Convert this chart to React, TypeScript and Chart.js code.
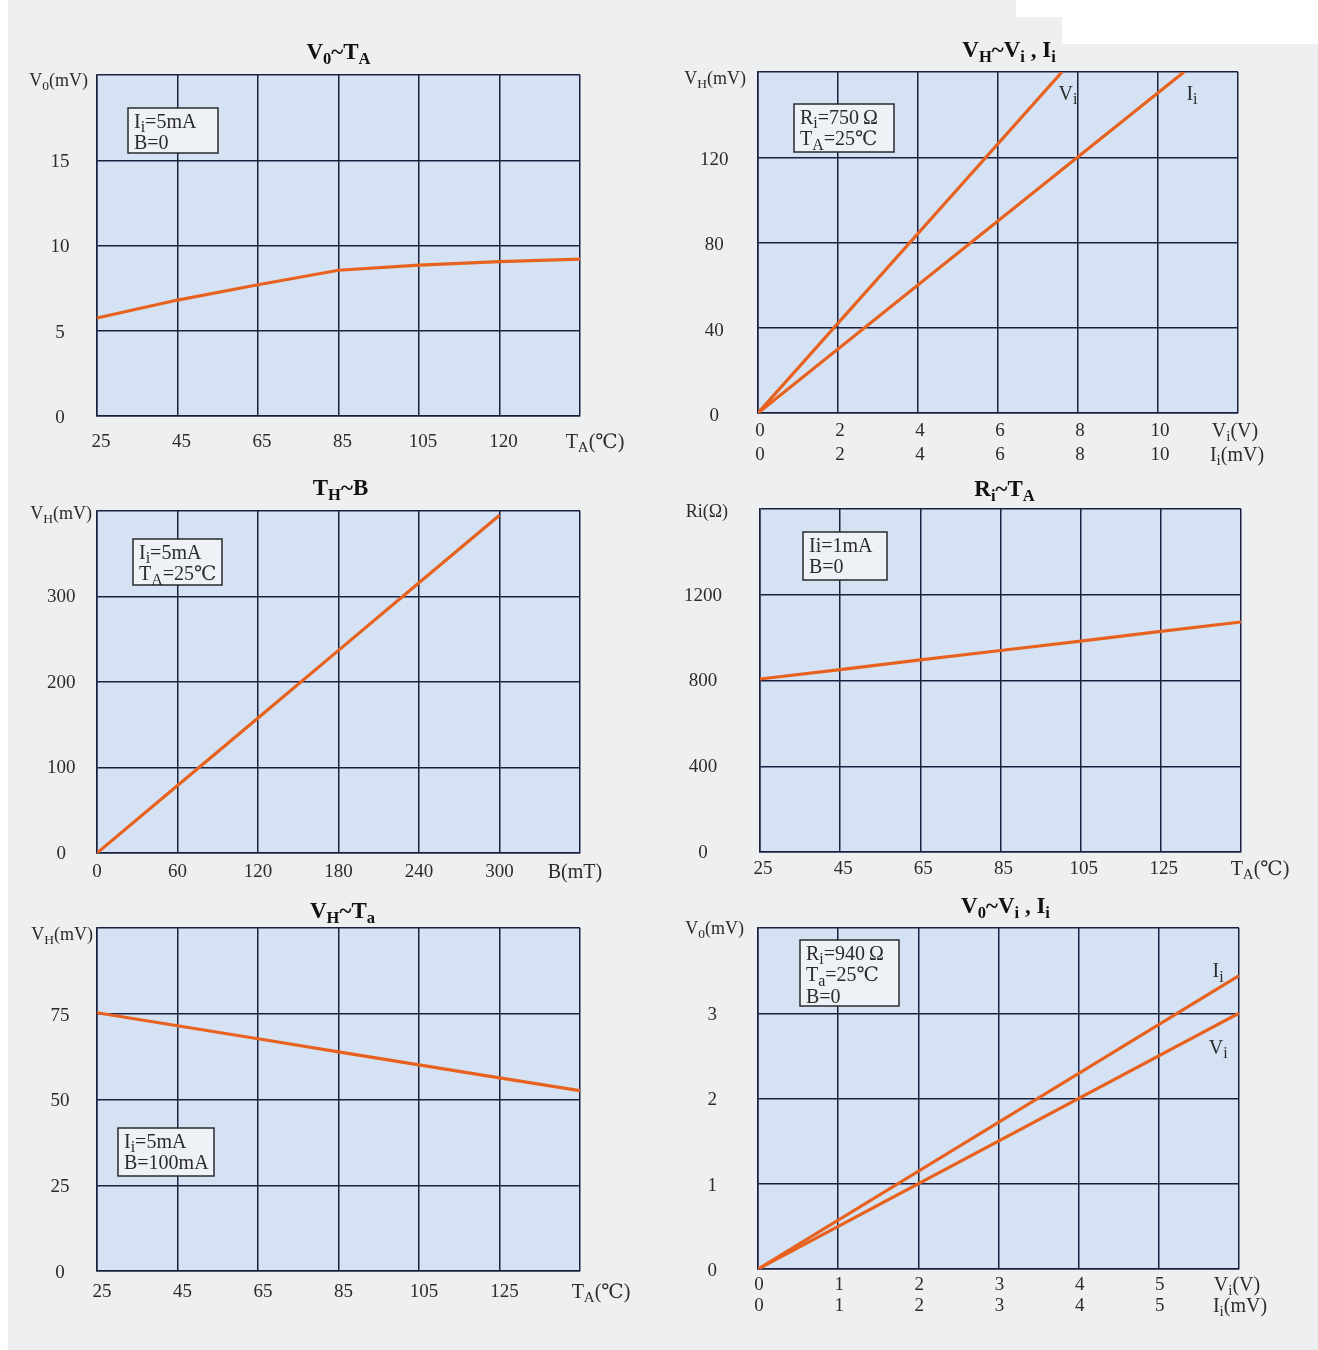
import React, { useEffect, useRef } from 'react';
import { Chart, registerables } from 'chart.js';

Chart.register(...registerables);

// ---------------- data ----------------
// Chart 1: V0 ~ TA
const C1_CATEGORIES = ['25', '45', '65', '85', '105', '120', ''];
const C1_VALUES = [5.75, 6.8, 7.7, 8.55, 8.85, 9.05, 9.2];
const C1_Y_TICKS = ['0', '5', '10', '15', ''];

// Chart 2: VH ~ Vi , Ii
const C2_XV_TICKS = ['0', '2', '4', '6', '8', '10', ''];
const C2_XI_TICKS = ['0', '2', '4', '6', '8', '10', ''];
const C2_Y_TICKS = ['0', '40', '80', '120', ''];
const C2_VI_X = [0, 7.6];
const C2_VI_Y = [0, 160];
const C2_II_X = [0, 10.65];
const C2_II_Y = [0, 160];

// Chart 3: TH ~ B
const C3_X_TICKS = ['0', '60', '120', '180', '240', '300', ''];
const C3_Y_TICKS = ['0', '100', '200', '300', ''];
const C3_B = [0, 60, 120, 180, 240, 300];
const C3_VH = [0, 79, 158, 237, 316, 395];

// Chart 4: Ri ~ TA
const C4_X_TICKS = ['25', '45', '65', '85', '105', '125', ''];
const C4_Y_TICKS = ['0', '400', '800', '1200', ''];
const C4_TA = [25, 45, 65, 85, 105, 125, 145];
const C4_RI = [807, 851, 896, 940, 984, 1029, 1073];

// Chart 5: VH ~ Ta
const C5_X_TICKS = ['25', '45', '65', '85', '105', '125', ''];
const C5_Y_TICKS = ['0', '25', '50', '75', ''];
const C5_TA = [25, 45, 65, 85, 105, 125, 145];
const C5_VH = [75.3, 71.5, 67.7, 63.9, 60.1, 56.3, 52.6];

// Chart 6: V0 ~ Vi , Ii
const C6_XV_TICKS = ['0', '1', '2', '3', '4', '5', ''];
const C6_XI_TICKS = ['0', '1', '2', '3', '4', '5', ''];
const C6_Y_TICKS = ['0', '1', '2', '3', ''];
const C6_II_X = [0, 6];
const C6_II_Y = [0, 3.44];
const C6_VI_X = [0, 6];
const C6_VI_Y = [0, 3.0];

// ---------------- styles ----------------
const FAMILY = "'Liberation Serif', 'DejaVu Serif', serif";
const GRID = '#1a2140';
const PLOT_BG = '#d4e2f3';
const LINE = '#e8621f';
const TEXT = '#2b2b2b';
const BOX_BG = '#eef1f5';
const PAGE_BG = '#eeeff1';
const TICK_SIZE = 19;

const Y_AREA = 90;
const X_AREA = 70;
const TOP_PAD = 60;
const RIGHT_PAD = 80;

type Seg = { t: string; sub: boolean };
function parseRich(s: string): Seg[] {
  const out: Seg[] = [];
  let buf = '';
  let i = 0;
  while (i < s.length) {
    const c = s[i];
    if (c === '_') {
      if (buf) { out.push({ t: buf, sub: false }); buf = ''; }
      if (s[i + 1] === '{') {
        const j = s.indexOf('}', i + 2);
        out.push({ t: s.slice(i + 2, j), sub: true });
        i = j + 1;
      } else {
        out.push({ t: s[i + 1], sub: true });
        i += 2;
      }
    } else {
      buf += c;
      i++;
    }
  }
  if (buf) out.push({ t: buf, sub: false });
  return out;
}

function drawRich(
  ctx: CanvasRenderingContext2D, s: string, x: number, y: number, size: number,
  bold: boolean, align: 'left' | 'center' | 'right', subScale = 0.75,
) {
  const segs = parseRich(s);
  const fontOf = (sz: number) => `${bold ? 'bold ' : ''}${sz}px ${FAMILY}`;
  let w = 0;
  const widths = segs.map((sg) => {
    ctx.font = fontOf(sg.sub ? size * subScale : size);
    const mw = ctx.measureText(sg.t).width;
    w += mw;
    return mw;
  });
  let cx = align === 'center' ? x - w / 2 : align === 'right' ? x - w : x;
  const base = y + size * 0.33;
  ctx.textAlign = 'left';
  ctx.textBaseline = 'alphabetic';
  segs.forEach((sg, i) => {
    ctx.font = fontOf(sg.sub ? size * subScale : size);
    ctx.fillText(sg.t, cx, sg.sub ? base + size * 0.22 : base);
    cx += widths[i];
  });
}

type Note = { text: string; x: number; y: number };
type Sheet = {
  title: string; titleDx: number; titleDy: number;
  yTitle: string; yTitleGap: number; yTitleDy: number;
  units: string[]; unitDx: number[]; rows: number[];
  box: { dx: number; dy: number; w: number; h: number; lines: string[] };
  notes: Note[];
};

function makeSheetPlugin(sheet: Sheet) {
  return {
    id: 'sheet',
    beforeDraw(chart: any) {
      const { ctx, chartArea: a } = chart;
      ctx.save();
      ctx.fillStyle = PLOT_BG;
      ctx.fillRect(a.left, a.top, a.right - a.left, a.bottom - a.top);
      ctx.restore();
    },
    afterDraw(chart: any) {
      const { ctx, chartArea: a } = chart;
      const xs = chart.scales.x;
      const ys = chart.scales.y;
      ctx.save();
      ctx.fillStyle = '#111';
      drawRich(ctx, sheet.title, (a.left + a.right) / 2 + sheet.titleDx, a.top - sheet.titleDy, 23, true, 'center', 0.72);
      ctx.fillStyle = TEXT;
      drawRich(ctx, sheet.yTitle, a.left - sheet.yTitleGap, a.top + sheet.yTitleDy, 18, false, 'right');
      sheet.units.forEach((u, i) => {
        drawRich(ctx, u, a.right + sheet.unitDx[i], a.bottom + sheet.rows[i], 20, false, 'center');
      });
      const b = sheet.box;
      const bx = a.left + b.dx;
      const by = a.top + b.dy;
      ctx.fillStyle = BOX_BG;
      ctx.fillRect(bx, by, b.w, b.h);
      ctx.strokeStyle = '#2a2a2a';
      ctx.lineWidth = 1.5;
      ctx.strokeRect(bx, by, b.w, b.h);
      ctx.fillStyle = TEXT;
      b.lines.forEach((ln, i) => {
        drawRich(ctx, ln, bx + 6, by + 13 + i * 21.5, 20, false, 'left', 0.8);
      });
      sheet.notes.forEach((n) => {
        drawRich(ctx, n.text, xs.getPixelForValue(n.x), ys.getPixelForValue(n.y), 20, false, 'center', 0.8);
      });
      ctx.restore();
    },
  };
}

type Series = { x?: number[]; y: number[] };
type Spec = {
  plot: [number, number, number, number];
  xType: 'category' | 'linear';
  labels?: string[];
  xMin?: number; xMax?: number; xStep?: number;
  xTicks: string[][];
  xPad: number; xRowGap: number; xShift: number;
  yMax: number; yStep: number; yTicks: string[]; yPad: number; yShift: number;
  series: Series[];
  sheet: Sheet;
};

function buildConfig(spec: Spec): any {
  const font = { family: FAMILY, size: TICK_SIZE, lineHeight: spec.xRowGap / TICK_SIZE };
  const xTickCb = (_v: any, i: number) =>
    spec.xTicks.length > 1 ? spec.xTicks.map((row) => row[i] ?? '') : (spec.xTicks[0][i] ?? '');
  const xScale: any = {
    type: spec.xType,
    offset: false,
    grid: { color: GRID, lineWidth: 1.5, drawTicks: false },
    border: { color: GRID, width: 1.5 },
    ticks: {
      autoSkip: false, maxRotation: 0, minRotation: 0,
      padding: spec.xPad + 2 - spec.xRowGap / 2, labelOffset: spec.xShift,
      color: TEXT, font, callback: xTickCb,
    },
    afterFit: (s: any) => { s.height = X_AREA; },
  };
  if (spec.xType === 'linear') {
    xScale.min = spec.xMin;
    xScale.max = spec.xMax;
    xScale.ticks.stepSize = spec.xStep;
  }
  const datasets = spec.series.map((s) => ({
    data: s.x ? s.x.map((xv, i) => ({ x: xv, y: s.y[i] })) : s.y,
    borderColor: LINE,
    borderWidth: 3.2,
    pointRadius: 0,
    fill: false,
    tension: 0,
  }));
  return {
    type: 'line',
    data: { labels: spec.labels, datasets },
    options: {
      animation: false,
      responsive: false,
      maintainAspectRatio: false,
      layout: { padding: { left: 0, top: TOP_PAD, right: RIGHT_PAD, bottom: 0 } },
      plugins: { legend: { display: false }, tooltip: { enabled: false }, title: { display: false } },
      scales: {
        x: xScale,
        y: {
          type: 'linear',
          min: 0,
          max: spec.yMax,
          grid: { color: GRID, lineWidth: 1.5, drawTicks: false },
          border: { color: GRID, width: 1.5 },
          ticks: {
            stepSize: spec.yStep, crossAlign: 'center', padding: spec.yPad, color: TEXT,
            labelOffset: spec.yShift,
            font: { family: FAMILY, size: TICK_SIZE },
            callback: (_v: any, i: number) => spec.yTicks[i] ?? '',
          },
          afterFit: (s: any) => { s.width = Y_AREA; },
        },
      },
    },
    plugins: [makeSheetPlugin(spec.sheet)],
  };
}

const SPECS: Spec[] = [
  {
    plot: [97, 75, 580, 416], xType: 'category', labels: C1_CATEGORIES,
    xTicks: [C1_CATEGORIES], xPad: 24, xRowGap: 22.8, xShift: 4,
    yMax: 20, yStep: 5, yTicks: C1_Y_TICKS, yPad: 27.5, yShift: 2,
    series: [{ y: C1_VALUES }],
    sheet: {
      title: 'V_0~T_A', titleDx: 0, titleDy: 24,
      yTitle: 'V_0(mV)', yTitleGap: 9, yTitleDy: 5,
      units: ['T_A(℃)'], unitDx: [15], rows: [25],
      box: { dx: 31, dy: 33, w: 90, h: 45, lines: ['I_i=5mA', 'B=0'] },
      notes: [],
    },
  },
  {
    plot: [758, 72, 1238, 413], xType: 'linear', xMin: 0, xMax: 12, xStep: 2,
    xTicks: [C2_XV_TICKS, C2_XI_TICKS], xPad: 16, xRowGap: 24, xShift: 2,
    yMax: 160, yStep: 40, yTicks: C2_Y_TICKS, yPad: 29.5, yShift: 3,
    series: [{ x: C2_VI_X, y: C2_VI_Y }, { x: C2_II_X, y: C2_II_Y }],
    sheet: {
      title: 'V_H~V_i , I_i', titleDx: 11, titleDy: 23,
      yTitle: 'V_H(mV)', yTitleGap: 12, yTitleDy: 6,
      units: ['V_i(V)', 'I_i(mV)'], unitDx: [-3, -1], rows: [17, 41],
      box: { dx: 36, dy: 32, w: 100, h: 48, lines: ['R_i=750\u2009Ω', 'T_A=25℃'] },
      notes: [{ text: 'V_i', x: 7.75, y: 150 }, { text: 'I_i', x: 10.85, y: 150 }],
    },
  },
  {
    plot: [97, 511, 580, 853], xType: 'linear', xMin: 0, xMax: 360, xStep: 60,
    xTicks: [C3_X_TICKS], xPad: 17, xRowGap: 22.8, xShift: 0,
    yMax: 400, yStep: 100, yTicks: C3_Y_TICKS, yPad: 21.5, yShift: 1,
    series: [{ x: C3_B, y: C3_VH }],
    sheet: {
      title: 'T_H~B', titleDx: 2, titleDy: 24,
      yTitle: 'V_H(mV)', yTitleGap: 5, yTitleDy: 2,
      units: ['B(mT)'], unitDx: [-5], rows: [18],
      box: { dx: 36, dy: 28, w: 89, h: 46, lines: ['I_i=5mA', 'T_A=25℃'] },
      notes: [],
    },
  },
  {
    plot: [760, 509, 1241, 852], xType: 'linear', xMin: 25, xMax: 145, xStep: 20,
    xTicks: [C4_X_TICKS], xPad: 15, xRowGap: 22.8, xShift: 3,
    yMax: 1600, yStep: 400, yTicks: C4_Y_TICKS, yPad: 38, yShift: 1,
    series: [{ x: C4_TA, y: C4_RI }],
    sheet: {
      title: 'R_i~T_A', titleDx: 4, titleDy: 21,
      yTitle: 'Ri(Ω)', yTitleGap: 32, yTitleDy: 2,
      units: ['T_A(℃)'], unitDx: [19], rows: [16],
      box: { dx: 43, dy: 23, w: 84, h: 48, lines: ['Ii=1mA', 'B=0'] },
      notes: [],
    },
  },
  {
    plot: [97, 928, 580, 1271], xType: 'linear', xMin: 25, xMax: 145, xStep: 20,
    xTicks: [C5_X_TICKS], xPad: 19, xRowGap: 22.8, xShift: 5,
    yMax: 100, yStep: 25, yTicks: C5_Y_TICKS, yPad: 27.5, yShift: 2,
    series: [{ x: C5_TA, y: C5_VH }],
    sheet: {
      title: 'V_H~T_a', titleDx: 4, titleDy: 18,
      yTitle: 'V_H(mV)', yTitleGap: 4, yTitleDy: 6,
      units: ['T_A(℃)'], unitDx: [21], rows: [20],
      box: { dx: 21, dy: 200, w: 96, h: 48, lines: ['I_i=5mA', 'B=100mA'] },
      notes: [],
    },
  },
  {
    plot: [758, 928, 1239, 1269], xType: 'linear', xMin: 0, xMax: 6, xStep: 1,
    xTicks: [C6_XV_TICKS, C6_XI_TICKS], xPad: 14, xRowGap: 21, xShift: 1,
    yMax: 4, yStep: 1, yTicks: C6_Y_TICKS, yPad: 41, yShift: 2,
    series: [{ x: C6_II_X, y: C6_II_Y }, { x: C6_VI_X, y: C6_VI_Y }],
    sheet: {
      title: 'V_0~V_i , I_i', titleDx: 7, titleDy: 23,
      yTitle: 'V_0(mV)', yTitleGap: 14, yTitleDy: 0,
      units: ['V_i(V)', 'I_i(mV)'], unitDx: [-2, 1], rows: [15, 36],
      box: { dx: 42, dy: 12, w: 99, h: 66, lines: ['R_i=940\u2009Ω', 'T_a=25℃', 'B=0'] },
      notes: [{ text: 'I_i', x: 5.74, y: 3.5 }, { text: 'V_i', x: 5.74, y: 2.6 }],
    },
  },
];

function SheetChart({ spec }: { spec: Spec }) {
  const ref = useRef<HTMLCanvasElement>(null);
  const [L, T, R, B] = spec.plot;
  const left = L - Y_AREA;
  const top = T - TOP_PAD;
  const width = R - L + Y_AREA + RIGHT_PAD;
  const height = B - T + TOP_PAD + X_AREA;
  useEffect(() => {
    if (!ref.current) return;
    const chart = new Chart(ref.current, buildConfig(spec));
    return () => chart.destroy();
  }, [spec]);
  return (
    <div style={{ position: 'absolute', left, top, width, height }}>
      <canvas ref={ref} width={width} height={height} style={{ width, height, display: 'block' }} />
    </div>
  );
}

export default function App() {
  return (
    <div
      style={{
        position: 'absolute', left: 0, top: 0, width: 1318, height: 1350,
        overflow: 'hidden', background: PAGE_BG,
      }}
    >
      <div style={{ position: 'absolute', left: 0, top: 0, width: 8, height: 1350, background: '#ffffff' }} />
      <div style={{ position: 'absolute', left: 1016, top: 0, width: 302, height: 17, background: '#ffffff' }} />
      <div style={{ position: 'absolute', left: 1062, top: 17, width: 256, height: 27, background: '#ffffff' }} />
      {SPECS.map((s, i) => (
        <SheetChart key={i} spec={s} />
      ))}
    </div>
  );
}
